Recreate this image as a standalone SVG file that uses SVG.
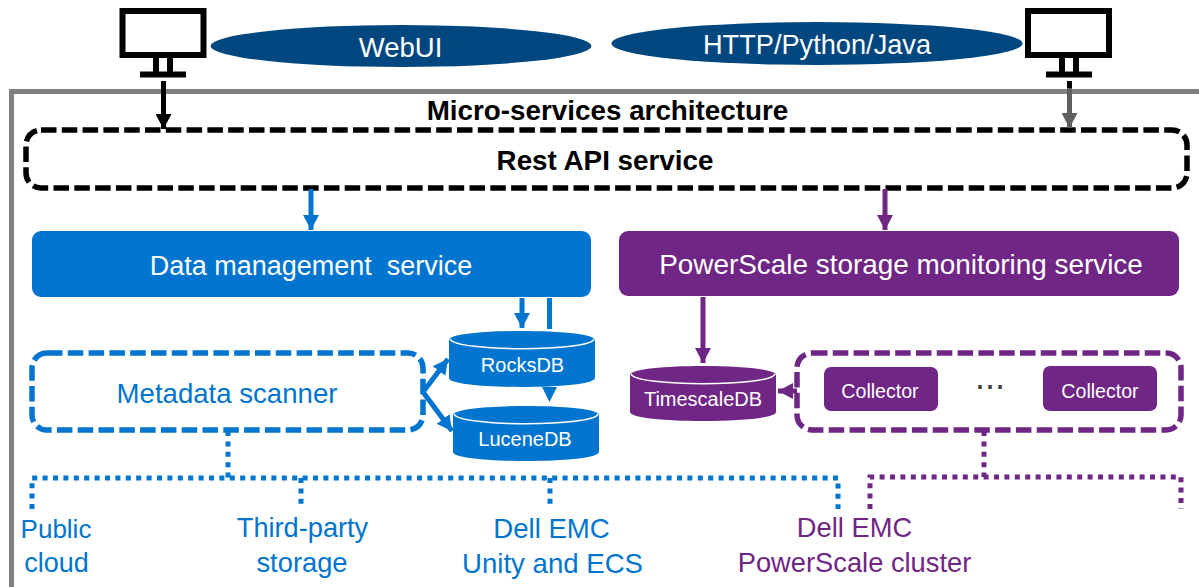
<svg xmlns="http://www.w3.org/2000/svg" width="1199" height="587" viewBox="0 0 1199 587">
<style>
text{font-family:"Liberation Sans",Arial,sans-serif;text-anchor:middle}
.w{fill:#fff}.b{fill:#0075CF}.p{fill:#6F2685}
.mon{fill:none;stroke:#000;stroke-width:6}
.line{fill:none}
.sb{stroke:#0075CF}.sp{stroke:#6F2685}
.dot{stroke-width:5;stroke-dasharray:5 5.4;fill:none}
.dash{stroke-width:5.5;stroke-dasharray:15.5 5.3;fill:none}
.hdr{font-weight:bold;font-size:27.800px;fill:#000}
</style>
<defs>
<marker id="ak" markerUnits="userSpaceOnUse" markerWidth="16" markerHeight="16" refX="15" refY="8" orient="auto"><path d="M0,0L15,8L0,16z" fill="#000"/></marker>
<marker id="ag" markerUnits="userSpaceOnUse" markerWidth="16" markerHeight="16" refX="15" refY="8" orient="auto"><path d="M0,0L15,8L0,16z" fill="#5F5F5F"/></marker>
<marker id="ab" markerUnits="userSpaceOnUse" markerWidth="16" markerHeight="16" refX="15" refY="8" orient="auto"><path d="M0,0L15,8L0,16z" fill="#0075CF"/></marker>
<marker id="ap" markerUnits="userSpaceOnUse" markerWidth="16" markerHeight="16" refX="15" refY="8" orient="auto"><path d="M0,0L15,8L0,16z" fill="#6F2685"/></marker>
</defs>
<rect width="1199" height="587" fill="#fff"/>
<g id="frame"><path d="M11.500,587V91.500H1199" fill="none" stroke="#808080" stroke-width="5"/><text class="hdr" x="607.500" y="120">Micro-services architecture</text></g>
<g id="monitor-left"><rect class="mon" x="122.500" y="11" width="81" height="44"/><path class="mon" d="M156,56V72M170,56V72"/><rect x="140" y="71.500" width="46" height="6" fill="#000"/></g>
<g id="monitor-right"><rect class="mon" x="1028" y="11" width="81" height="44"/><path class="mon" d="M1062,56V72M1076,56V72"/><rect x="1046" y="71.500" width="46" height="6" fill="#000"/></g>
<g id="webui"><ellipse cx="401" cy="46" rx="190.500" ry="21" fill="#00467F"/><text class="w" x="400.500" y="56.500" font-size="27.500">WebUI</text></g>
<g id="http"><ellipse cx="817" cy="43.500" rx="205.500" ry="21.500" fill="#00467F"/><text class="w" x="817" y="54" font-size="27.200">HTTP/Python/Java</text></g>
<g id="rest-api"><rect x="26" y="130" width="1161" height="58" rx="15" class="dash" stroke="#000"/><text class="hdr" x="605" y="169.500">Rest API service</text></g>
<g id="data-mgmt"><rect x="32" y="231" width="559" height="66" rx="9" class="b"/><text class="w" x="311" y="275" font-size="27" xml:space="preserve">Data management  service</text></g>
<g id="monitoring"><rect x="619" y="231" width="560" height="65" rx="9" class="p"/><text class="w" x="901" y="274" font-size="27.900">PowerScale storage monitoring service</text></g>
<g id="rocksdb"><path class="b" d="M449,340V378C449,390 595,390 595,378V340C595,328 449,328 449,340z"/><path d="M450,339C455,352 590,352 594,339" fill="none" stroke="#fff" stroke-width="1.500"/><text class="w" x="522.500" y="372" font-size="20">RocksDB</text></g>
<g id="lucenedb"><path class="b" d="M453,415V452C453,464 599,464 599,452V415C599,403 453,403 453,415z"/><path d="M454,414C459,427 594,427 598,414" fill="none" stroke="#fff" stroke-width="1.500"/><text class="w" x="525" y="446" font-size="20">LuceneDB</text></g>
<g id="timescaledb"><path class="p" d="M630,375V412C630,424 776,424 776,412V375C776,363 630,363 630,375z"/><path d="M631,374C636,387 771,387 775,374" fill="none" stroke="#fff" stroke-width="1.500"/><text class="w" x="703" y="406" font-size="20">TimescaleDB</text></g>
<g id="metadata-scanner"><rect x="32" y="353" width="391" height="77" rx="15" class="dash sb"/><text class="b" x="227" y="403" font-size="27.600">Metadata scanner</text></g>
<g id="collector-group"><rect x="797" y="353" width="384" height="77" rx="15" class="dash sp"/><text x="990" y="389" font-size="36" fill="#404040">...</text></g>
<g id="collector-1"><rect x="824" y="367" width="114" height="44" rx="7" class="p"/><text class="w" x="880" y="398" font-size="19.600">Collector</text></g>
<g id="collector-2"><rect x="1043" y="366" width="114" height="45" rx="7" class="p"/><text class="w" x="1100" y="398" font-size="19.600">Collector</text></g>
<g id="connectors">
<path class="line" d="M163.500,81V129" stroke="#000" stroke-width="5" marker-end="url(#ak)"/>
<path class="line" d="M1069.500,81V88" stroke="#000" stroke-width="5"/>
<path class="line" d="M1069.500,88V128" stroke="#5F5F5F" stroke-width="5" marker-end="url(#ag)"/>
<path class="line sb" d="M311,189V230" stroke-width="5" marker-end="url(#ab)"/>
<path class="line sp" d="M885,189V230" stroke-width="5" marker-end="url(#ap)"/>
<path class="line sb" d="M522,298V328" stroke-width="5" marker-end="url(#ab)"/>
<path class="line sb" d="M549.500,298V329" stroke-width="5"/>
<path class="b" d="M542,387H557L549.500,402z"/>
<path class="line sp" d="M703,297V363" stroke-width="5" marker-end="url(#ap)"/>
<path class="line sp" d="M797,391H778" stroke-width="5" marker-end="url(#ap)"/>
<path class="line sb" d="M423,392L448,359" stroke-width="5" marker-end="url(#ab)"/>
<path class="line sb" d="M423,392L452,431" stroke-width="5" marker-end="url(#ab)"/>
<path class="line sb dot" d="M228,431V478"/>
<path class="line sb dot" d="M32,509V478H838V509"/>
<path class="line sb dot" d="M301,478V509"/>
<path class="line sb dot" d="M550,478V509"/>
<path class="line sp dot" d="M984,431V477"/>
<path class="line sp dot" d="M870,509V477H1181V509"/>
</g>
<g id="labels" font-size="27">
<text class="b" x="56" y="538" font-size="26">Public</text><text class="b" x="56.500" y="572">cloud</text>
<text class="b" x="302.500" y="537" font-size="27.200">Third-party</text><text class="b" x="302" y="572" font-size="27.300">storage</text>
<text class="b" x="551.500" y="538" font-size="27.600">Dell EMC</text><text class="b" x="552.500" y="573" font-size="27.600">Unity and ECS</text>
<text class="p" x="854.500" y="537" font-size="27.300">Dell EMC</text><text class="p" x="854.500" y="572" font-size="27.300">PowerScale cluster</text>
</g>
</svg>
